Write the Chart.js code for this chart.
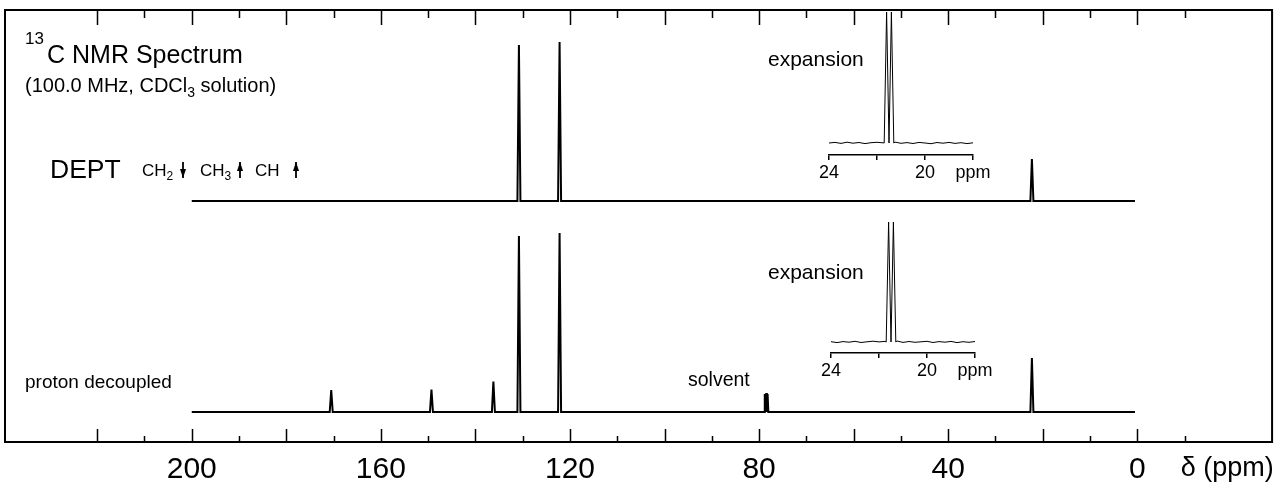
<!DOCTYPE html>
<html>
<head>
<meta charset="utf-8">
<script src="https://cdn.jsdelivr.net/npm/chart.js@4.4.1/dist/chart.umd.min.js"></script>
<style>
  html, body { margin: 0; padding: 0; background: #fff; }
  #wrap { position: relative; width: 1284px; height: 488px; }
  canvas { position: absolute; }
</style>
</head>
<body>
<div id="wrap">
  <canvas id="mainChart" width="1284" height="488" style="left:0;top:0"></canvas>
  <canvas id="deptInset" width="230" height="190" style="left:790px;top:0"></canvas>
  <canvas id="protonInset" width="230" height="190" style="left:792px;top:198px"></canvas>
</div>
<script>
// ================== Data ==================
// chemical shifts (ppm) and peak heights
const protonShifts = [170.5, 149.3, 136.2, 130.8, 122.2, 22.3];
const protonHeights = [22, 22.5, 30.5, 176, 179, 54];
const solventShifts = [78.8, 78.5, 78.2];
const solventHeights = [18, 19, 18];
const deptShifts = [130.8, 122.2, 22.3];
const deptHeights = [156, 159, 42];

// expansion insets, 24 - 18 ppm
const insetShifts = [21.6, 21.4];
const deptInsetHeights = [131, 131];
const protonInsetHeights = [120, 120];
const insetNoisePpm = [24, 23.75, 23.5, 23.25, 23, 22.75, 22.5, 22.25, 22, 21.75,
  21.25, 21, 20.75, 20.5, 20.25, 20, 19.75, 19.5, 19.25, 19, 18.75, 18.5, 18.25, 18];
const deptInsetNoise = [0, 0.6, -0.4, 0.8, -0.2, 0.5, -0.6, 0.3, 0.7, 0.2,
  0.9, -0.3, 0.4, -0.5, 0.6, 0, -0.7, 0.5, -0.2, 0.6, -0.4, 0.3, -0.6, 0.2];
const protonInsetNoise = [0.3, -0.6, 0.4, -0.2, 0.7, -0.5, 0.2, 0.8, 0.1, 0.6,
  1.0, -0.4, 0.5, -0.3, 0.2, 0.7, -0.5, 0.4, -0.2, 0.6, -0.6, 0.3, -0.3, 0.5];

// axis ticks
const axisLabelTicks = [200, 160, 120, 80, 40, 0];
const axisTickMarks = [220, 210, 200, 190, 180, 170, 160, 150, 140, 130, 120, 110,
  100, 90, 80, 70, 60, 50, 40, 30, 20, 10, 0, -10];
const insetTicks = [24, 22, 20, 18];
const insetTickLabels = ["24", "", "20", "ppm"];

// ================== Layout / style ==================
const FONT = "'Liberation Sans', Arial, Helvetica, sans-serif";
const DEPT_BASE = 241;     // baseline offsets in y units
const PROTON_BASE = 30;
const SPEC_START = 200, SPEC_END = 0.5;
const PEAK_HW = 0.32, SOLVENT_HW = 0.15, INSET_HW = 0.1;
const UNIT_POS = -19;      // where "δ (ppm)" sits on the axis

Chart.defaults.font.family = FONT;
Chart.defaults.color = "#000";

// ================== Helpers ==================
function buildTrace(start, end, groups, offset) {
  const pts = [{ x: start, y: offset }, { x: end, y: offset }];
  groups.forEach((g) => {
    g.shifts.forEach((s, i) => {
      pts.push({ x: s + g.hw, y: offset }, { x: s, y: offset + g.heights[i] }, { x: s - g.hw, y: offset });
    });
  });
  return pts.sort((a, b) => b.x - a.x);
}

function buildInset(heights, noise, offset) {
  const pts = insetNoisePpm.map((p, i) => ({ x: p, y: offset + noise[i] }));
  insetShifts.forEach((s, i) => {
    pts.push({ x: s + INSET_HW, y: offset }, { x: s, y: offset + heights[i] }, { x: s - INSET_HW, y: offset });
  });
  return pts.sort((a, b) => b.x - a.x);
}

function drawRuns(ctx, x, y, runs) {
  runs.forEach(([t, size, dy]) => {
    ctx.font = size + "px " + FONT;
    ctx.fillText(t, x, y + (dy || 0));
    x += ctx.measureText(t).width;
  });
}

function drawArrow(ctx, x, y1, y2, up) {
  const tip = up ? y1 : y2;
  const dir = up ? 1 : -1;
  ctx.beginPath();
  ctx.moveTo(x, y1);
  ctx.lineTo(x, y2);
  ctx.stroke();
  ctx.beginPath();
  ctx.moveTo(x, tip);
  ctx.lineTo(x - 3, tip + dir * 9);
  ctx.lineTo(x + 3, tip + dir * 9);
  ctx.closePath();
  ctx.fill();
}

// ================== Plugins ==================
const framePlugin = {
  id: "frame",
  afterDraw(chart) {
    const { ctx, chartArea: a } = chart;
    const xs = chart.scales.x;
    ctx.save();
    ctx.strokeStyle = "#000";
    ctx.fillStyle = "#000";
    ctx.lineWidth = 2;
    ctx.strokeRect(a.left, a.top, a.right - a.left, a.bottom - a.top);
    ctx.lineWidth = 1.5;
    axisTickMarks.forEach((v) => {
      const x = Math.round(xs.getPixelForValue(v)) + 0.5;
      const major = v % 20 === 0;
      ctx.beginPath();
      ctx.moveTo(x, a.bottom);
      ctx.lineTo(x, a.bottom - (major ? 13 : 6));
      ctx.moveTo(x, a.top);
      ctx.lineTo(x, a.top + (major ? 15 : 8));
      ctx.stroke();
    });

    // annotations
    ctx.textBaseline = "alphabetic";
    ctx.textAlign = "left";
    drawRuns(ctx, 25, 44, [["13", 17]]);
    drawRuns(ctx, 47, 63, [["C NMR Spectrum", 25]]);
    drawRuns(ctx, 25, 92, [["(100.0 MHz, CDCl", 20], ["3", 14, 5], [" solution)", 20]]);
    drawRuns(ctx, 50, 178, [["DEPT", 26.5]]);
    drawRuns(ctx, 142, 176, [["CH", 17], ["2", 12, 4]]);
    drawRuns(ctx, 200, 176, [["CH", 17], ["3", 12, 4]]);
    drawRuns(ctx, 255, 176, [["CH", 17]]);
    ctx.lineWidth = 1.8;
    drawArrow(ctx, 183, 162, 178, false);
    drawArrow(ctx, 240, 162, 178, true);
    drawArrow(ctx, 296, 162, 178, true);
    drawRuns(ctx, 25, 388, [["proton decoupled", 19]]);
    drawRuns(ctx, 688, 386, [["solvent", 19.5]]);
    drawRuns(ctx, 768, 66, [["expansion", 21]]);
    drawRuns(ctx, 768, 279, [["expansion", 21]]);
    ctx.restore();
  },
};

// ================== Main chart ==================
new Chart(document.getElementById("mainChart"), {
  type: "line",
  data: {
    datasets: [
      {
        label: "DEPT",
        data: buildTrace(SPEC_START, SPEC_END, [{ shifts: deptShifts, heights: deptHeights, hw: PEAK_HW }], DEPT_BASE),
        borderColor: "#000",
      },
      {
        label: "proton decoupled",
        data: buildTrace(SPEC_START, SPEC_END, [
          { shifts: protonShifts, heights: protonHeights, hw: PEAK_HW },
          { shifts: solventShifts, heights: solventHeights, hw: SOLVENT_HW },
        ], PROTON_BASE),
        borderColor: "#000",
      },
    ],
  },
  options: {
    responsive: false,
    animation: false,
    devicePixelRatio: 1,
    layout: { padding: { left: 5, right: 9, top: 10, bottom: 1 } },
    plugins: { legend: { display: false }, tooltip: { enabled: false } },
    elements: { point: { radius: 0 }, line: { borderWidth: 2, tension: 0 } },
    scales: {
      x: {
        type: "linear",
        min: -28.5,
        max: 239.5,
        reverse: true,
        grid: { display: false, drawTicks: false },
        border: { display: false },
        afterBuildTicks: (scale) => {
          scale.ticks = axisLabelTicks.concat([UNIT_POS]).map((v) => ({ value: v }));
        },
        afterFit: (scale) => {
          scale.height = 45;
        },
        ticks: {
          autoSkip: false,
          maxRotation: 0,
          padding: 10,
          color: "#000",
          font: (c) => ({ size: c.tick && c.tick.value === UNIT_POS ? 27 : 30 }),
          callback: (v) => (v === UNIT_POS ? "δ (ppm)" : String(v)),
        },
      },
      y: { display: false, min: 0, max: 432 },
    },
  },
  plugins: [framePlugin],
});

// ================== Expansion insets ==================
function makeInset(id, data) {
  new Chart(document.getElementById(id), {
    type: "line",
    data: { datasets: [{ data, borderColor: "#000", borderWidth: 1, pointRadius: 0, tension: 0 }] },
    options: {
      responsive: false,
      animation: false,
      devicePixelRatio: 1,
      layout: { padding: { left: 39, right: 47, top: 10, bottom: 6 } },
      plugins: { legend: { display: false }, tooltip: { enabled: false } },
      scales: {
        x: {
          type: "linear",
          min: 18,
          max: 24,
          reverse: true,
          afterBuildTicks: (scale) => {
            scale.ticks = insetTicks.map((v) => ({ value: v }));
          },
          afterFit: (scale) => {
            scale.height = 29;
          },
          grid: { drawOnChartArea: false, drawTicks: true, tickLength: 5, color: "#000", lineWidth: 1.5 },
          border: { display: true, color: "#000", width: 1.5 },
          ticks: {
            autoSkip: false,
            maxRotation: 0,
            padding: 2,
            color: "#000",
            font: { size: 18 },
            callback: (v) => insetTickLabels[insetTicks.indexOf(v)],
          },
        },
        y: { display: false, min: 0, max: 145 },
      },
    },
  });
}

makeInset("deptInset", buildInset(deptInsetHeights, deptInsetNoise, 12));
makeInset("protonInset", buildInset(protonInsetHeights, protonInsetNoise, 11));
</script>
</body>
</html>
